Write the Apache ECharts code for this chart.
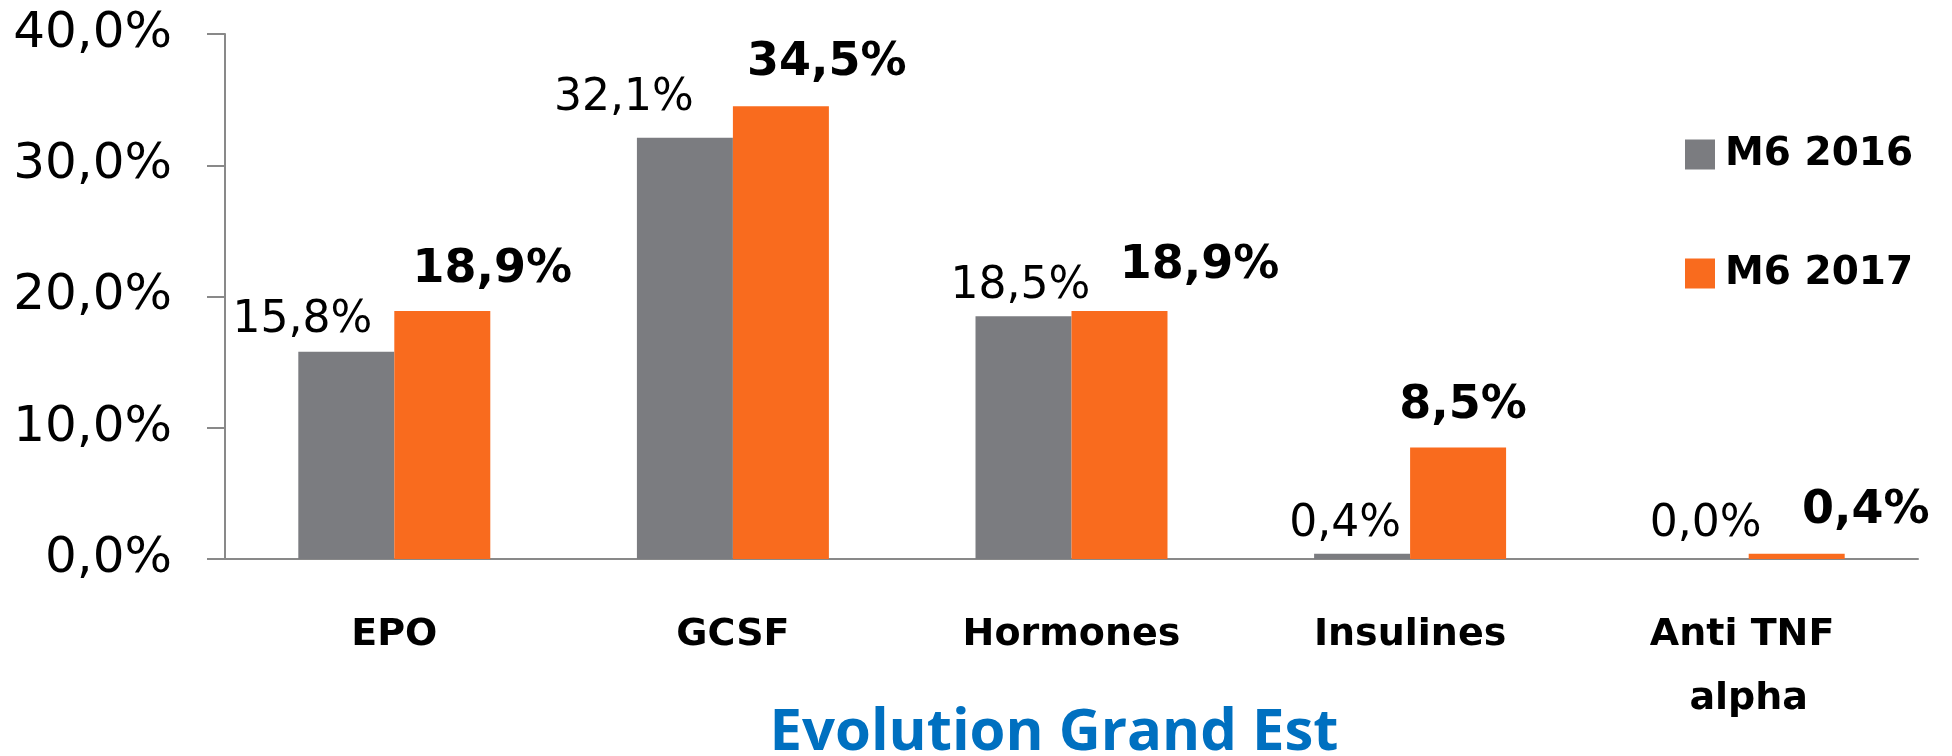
<!DOCTYPE html>
<html>
<head>
<meta charset="utf-8">
<title>Evolution Grand Est</title>
<script src="https://cdn.jsdelivr.net/npm/echarts@6/dist/echarts.min.js"></script>
<style>
  html, body { margin: 0; padding: 0; background: #fff; }
  #chart { width: 1952px; height: 756px; }
</style>
</head>
<body>
<div id="chart"></div>
<script>
// données (en %)
const categories = ['EPO', 'GCSF', 'Hormones', 'Insulines', 'Anti TNF alpha']
const seriesNames = ['M6 2016', 'M6 2017']
const values2016 = [15.8, 32.1, 18.5, 0.4, 0.0]
const values2017 = [18.9, 34.5, 18.9, 8.5, 0.4]
const yTicks = [0, 10, 20, 30, 40]

// décalage des étiquettes (placées à la main dans l'original)
const shift2016 = [[-44, -4], [-61, -12], [-3, -3], [-17, -2], [5, -7]]
const shift2017 = [[50, -13], [46, -15], [80, -17], [5, -13], [69, -15]]

const GRAY = '#7b7c80'
const ORANGE = '#f96b1e'
const AXIS = '#898989'

const fmt = (v) => v.toFixed(1).replace('.', ',') + '%'

const withShift = (vals, shifts) =>
  vals.map((v, i) => ({ value: v, label: { offset: shifts[i] } }))

const chart = echarts.init(document.getElementById('chart'), null, { renderer: 'canvas' })

chart.setOption({
  animation: false,
  backgroundColor: '#fff',
  title: {
    text: 'Evolution Grand Est',
    left: 1049,
    textAlign: 'center',
    top: 699,
    textStyle: {
      fontFamily: 'Open Sans',
      fontWeight: 'bold',
      fontSize: 58,
      color: '#0070c0'
    }
  },
  legend: {
    orient: 'vertical',
    left: 1680,
    top: 130,
    itemWidth: 30,
    itemHeight: 30,
    itemGap: 80,
    icon: 'rect',
    data: seriesNames,
    textStyle: {
      fontFamily: 'DejaVu Sans',
      fontWeight: 'bold',
      fontSize: 39,
      color: '#000',
      padding: [0, 0, 0, 5]
    }
  },
  grid: {
    left: 225,
    right: 34,
    top: 34,
    bottom: 197,
    outerBoundsMode: 'none'
  },
  xAxis: {
    type: 'category',
    data: categories,
    axisLine: { lineStyle: { color: AXIS, width: 2 } },
    axisTick: { length: 16, lineStyle: { color: AXIS, width: 2 } },
    axisLabel: {
      interval: 0,
      margin: 44,
      width: 240,
      overflow: 'break',
      lineHeight: 64,
      fontFamily: 'DejaVu Sans',
      fontWeight: 'bold',
      fontSize: 38,
      color: '#000'
    }
  },
  yAxis: {
    type: 'value',
    min: yTicks[0],
    max: yTicks[yTicks.length - 1],
    interval: yTicks[1] - yTicks[0],
    splitLine: { show: false },
    axisLine: { show: true, lineStyle: { color: AXIS, width: 2 } },
    axisTick: { show: true, length: 18, lineStyle: { color: AXIS, width: 2 } },
    axisLabel: {
      margin: 53,
      fontFamily: 'DejaVu Sans',
      fontSize: 50,
      color: '#000',
      formatter: fmt
    }
  },
  series: [
    {
      name: seriesNames[0],
      type: 'bar',
      barGap: '0%',
      barCategoryGap: '43.3%',
      itemStyle: { color: GRAY },
      label: {
        show: true,
        position: 'top',
        distance: 5,
        fontFamily: 'DejaVu Sans',
        fontSize: 44,
        color: '#000',
        formatter: (p) => fmt(p.value)
      },
      data: withShift(values2016, shift2016)
    },
    {
      name: seriesNames[1],
      type: 'bar',
      itemStyle: { color: ORANGE },
      label: {
        show: true,
        position: 'top',
        distance: 5,
        fontFamily: 'DejaVu Sans',
        fontWeight: 'bold',
        fontSize: 46,
        color: '#000',
        formatter: (p) => fmt(p.value)
      },
      data: withShift(values2017, shift2017)
    }
  ]
})

window.addEventListener('resize', () => chart.resize())
</script>
</body>
</html>
